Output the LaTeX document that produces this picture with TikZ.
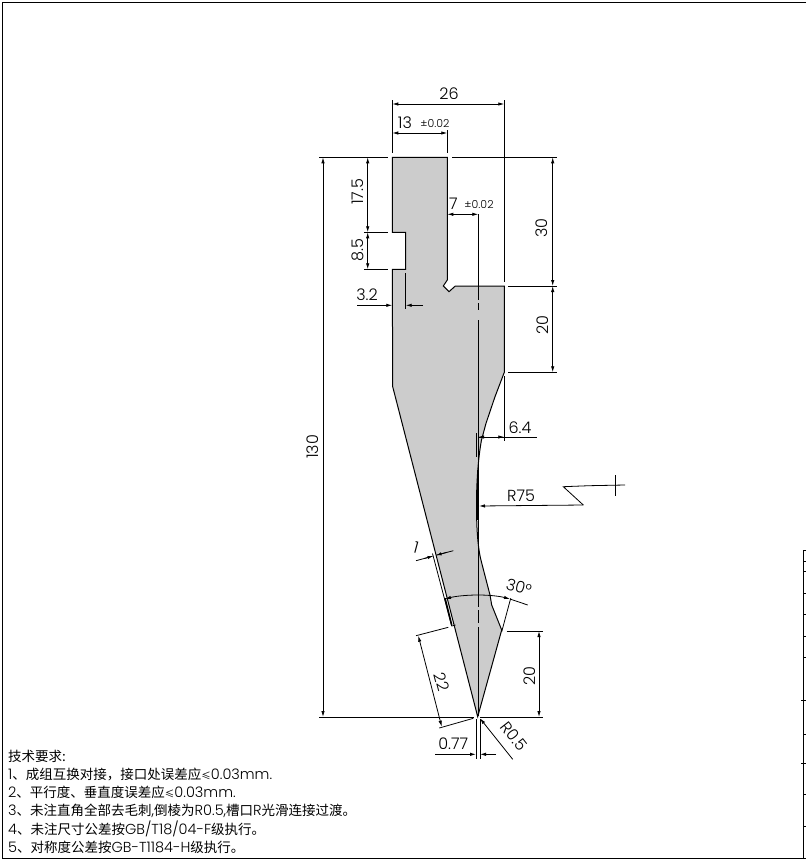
\documentclass[tikz,border=0pt]{standalone}
\usepackage{fontspec}
\setmainfont{Poppins Light}
\newfontfamily\cjk{Noto Sans CJK SC}
\newcommand{\Cj}[1]{{\cjk\fontsize{13.5}{13.5}\selectfont #1}}
\newcommand{\Le}{{\cjk\fontsize{9.5}{9.5}\selectfont ≤}}
\usetikzlibrary{arrows.meta}
\tikzset{
  part/.style={draw=black,fill=black!20,line width=1pt,line join=miter},
  thinl/.style={draw=black,line width=0.8pt},
  dim/.style={draw=black,line width=0.8pt},
  dimboth/.style={dim,{Latex[length=6pt,width=3.4pt]}-{Latex[length=6pt,width=3.4pt]}},
  dimend/.style={dim,-{Latex[length=6pt,width=3.4pt]}},
  lab/.style={inner sep=0pt,font=\fontsize{16}{16}\selectfont},
  tol/.style={inner sep=0pt,font=\fontsize{11}{11}\selectfont},
  note/.style={inner sep=0pt,anchor=west,font=\fontsize{14.5}{15}\selectfont}
}
\begin{document}
\begin{tikzpicture}[x=1pt,y=-1pt]
\useasboundingbox (0,0) rectangle (806,862);
% frame
\draw[line width=1.2pt] (806,2.2) -- (2.5,2.2) -- (2.5,858.5) -- (806,858.5);
\draw[line width=1pt] (806,550.7) -- (803.7,550.7) -- (803.7,858.5);
\foreach \y in {561,571,593.3,614.7,636,657.3,734.3,794,826.7}
  \draw[line width=0.8pt] (803.7,\y) -- (806,\y);
\foreach \y in {700,763.3}
  \draw[line width=0.8pt] (801,\y) -- (806,\y);
% part
\draw[part] (392.3,157.3) -- (447.3,157.3) -- (447.3,280) -- (443.3,286) -- (449,291.7) -- (455.3,286) -- (504.3,286) -- (504.3,372.3)
  -- (495,396.7) -- (486,423.3) -- (481.5,440) .. controls (478.5,456) and (476.5,480) .. (476.5,505)
  .. controls (476.5,530) and (478,550) .. (481.7,563) -- (490,595) -- (491.7,605) -- (501.7,630) -- (477.7,716.7)
  -- (392.7,386.7) -- (392.3,269.3) -- (405.7,269.3) -- (405.7,232.3) -- (392.3,232.3) -- cycle;
% extension lines
\draw[thinl] (392.3,100) -- (392.3,153);
\draw[thinl] (504.3,100) -- (504.3,282);
\draw[thinl] (447.3,130) -- (447.3,153);
\draw[thinl] (319,157.3) -- (388,157.3);
\draw[thinl] (452,157.3) -- (557,157.3);
\draw[thinl] (364,232.3) -- (388,232.3);
\draw[thinl] (364,269.3) -- (388,269.3);
\draw[thinl] (508,286) -- (557,286);
\draw[thinl] (508,372.3) -- (557,372.3);
\draw[thinl] (319,717) -- (474,717);
\draw[thinl] (405.7,273) -- (405.7,309);
\draw[thinl] (504.3,376) -- (504.3,441);
\draw[thinl] (506.7,631) -- (542.7,631);
\draw[thinl] (480,717) -- (542.7,717);
% centre line
\draw[thinl] (478.3,214.3) -- (478.3,300);
\draw[thinl] (478.3,303) -- (478.3,310);
\draw[line width=1.1pt] (478.3,320) -- (478.3,537);
\draw[thinl] (478.3,537) -- (478.3,607);
\draw[thinl] (478.3,610) -- (478.3,623);
\draw[thinl] (478.3,627) -- (478.3,716);
% radius witness lines
\draw[thinl] (476.7,433) -- (476.7,457);
\draw[thinl] (477,470) -- (477,520);
% dimensions
\draw[dimboth] (392.3,104) -- (504.3,104);
\node[lab] (d26) at (449,94) {26};
\draw[dimboth] (392.3,133) -- (447.3,133);
\node[lab] (d13) at (405,123) {13};
\node[tol] (d13t) at (435,123.5) {±0.02};
\draw[dimboth] (323,157.3) -- (323,717);
\node[lab,rotate=90] (d130) at (313,447) {130};
\draw[dimboth] (367.7,157.3) -- (367.7,232.3);
\node[lab,rotate=90] (d175) at (358,192) {17.5};
\draw[dimboth] (367.7,232.3) -- (367.7,269.3);
\node[lab,rotate=90] (d85) at (358,250) {8.5};
\draw[dimboth] (552.7,157.3) -- (552.7,286);
\node[lab,rotate=90] (d30) at (542,228) {30};
\draw[dimboth] (552.7,286) -- (552.7,372.3);
\node[lab,rotate=90] (d20a) at (543,325) {20};
\draw[dimboth] (447.3,214.3) -- (478.3,214.3);
\node[lab] (d7) at (453.5,204) {7};
\node[tol] (d7t) at (479,204.5) {±0.02};
\draw[dimend] (357,305.3) -- (392.3,305.3);
\draw[dimend] (423,305.3) -- (405.7,305.3);
\node[lab] (d32) at (367,295) {3.2};
\draw[dimend] (536.7,437) -- (478,437);
\draw[dim,{Latex[length=6pt,width=3.4pt]}-] (504.3,437) -- (478,437);
\node[lab] (d64) at (520,427.5) {6.4};
% R75 leader
\draw[dimend] (583.3,505) -- (479,506);
\draw[dim] (583.3,505) -- (563.3,486.7) -- (589,485.7) -- (625,485);
\draw[dim] (615.7,475) -- (615.7,495.7);
\node[lab] (r75) at (521,495.5) {R75};
% thickness 1
\draw[dim] (416,560.7) -- (432.6,556.2);
\draw[dim] (436.5,555.1) -- (453.3,550.7);
\draw[-{Latex[length=5pt,width=3.4pt]},dim] (424,558.6) -- (432.6,556.2);
\draw[-{Latex[length=5pt,width=3.4pt]},dim] (447,552.3) -- (436.5,555.1);
\node[lab,rotate=-15] (d1) at (416,548) {1};
\draw[dim] (432.5,553.5) -- (451.7,626) -- (455.5,625);
% length 22
\draw[dim] (416,635.7) -- (448.3,627.3);
\draw[dim] (439.3,728) -- (473.3,718.3);
\draw[dimboth] (418.3,635.7) -- (441.7,726.7);
\node[lab,rotate=-75] (d22) at (441.7,682.3) {22};
% angle 30
\draw[line width=1.6pt] (445,598.3) -- (451.7,625);
\draw[dim] (501.7,631.7) -- (510.7,598.3);
\draw[dim,{Latex[length=6pt,width=3.4pt]}-{Latex[length=6pt,width=3.4pt]}] (445,599) .. controls (455,596.3) and (466,595) .. (478,595) .. controls (490,595) and (500,596.3) .. (510,599);
\draw[dim] (510,599) -- (527.7,605);
\node[lab,rotate=-15] (d30a) at (519,587) {30°};
% right 20
\draw[dimboth] (539,631) -- (539,717);
\node[lab,rotate=90] (d20b) at (529.3,675.7) {20};
% 0.77
\draw[thinl] (476,719) -- (476,759);
\draw[thinl] (480,719) -- (480,759);
\draw[dimend] (435,754.3) -- (476,754.3);
\draw[dimend] (496,754.3) -- (480,754.3);
\node[lab] (d077) at (453.3,744) {0.77};
% R0.5
\draw[dimend] (512.7,759.3) -- (480,718.3);
\node[lab,rotate=-52] (r05) at (514,736.5) {R0.5};
% notes
\node[note] (n0) at (8,756) {\Cj{技术要求:}};
\node[note] (n1) at (8,774.3) {1\Cj{、成组互换对接^^^^ff0c接口处误差应}\Le 0.03mm.};
\node[note] (n2) at (8,792.7) {2\Cj{、平行度、垂直度误差应}\Le 0.03mm.};
\node[note] (n3) at (8,811) {3\Cj{、未注直角全部去毛刺},\Cj{倒棱为}R0.5,\Cj{槽口}R\Cj{光滑连接过渡。}};
\node[note] (n4) at (8,829.3) {4\Cj{、未注尺寸公差按}GB/T18/04-F\Cj{级执行。}};
\node[note] (n5) at (8,847.7) {5\Cj{、对称度公差按}GB-T1184-H\Cj{级执行。}};
\end{tikzpicture}
\end{document}
